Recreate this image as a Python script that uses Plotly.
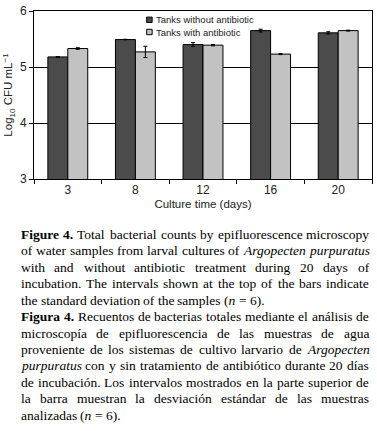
import re
import plotly.graph_objects as go

# ---------------- data ----------------
days = ["3", "8", "12", "16", "20"]
series_names = ["Tanks without antibiotic", "Tanks with antibiotic"]
without_ab = [5.18, 5.49, 5.40, 5.65, 5.61]
without_sd = [0.005, 0.005, 0.035, 0.025, 0.02]
with_ab = [5.33, 5.27, 5.39, 5.23, 5.65]
with_sd = [0.015, 0.10, 0.012, 0.008, 0.008]
y_ticks = [3, 4, 5, 6]

caption_lines = [
    "<b>Figure</b> <b>4.</b> Total bacterial counts by epifluorescence microscopy",
    "of water samples from larval cultures of <i>Argopecten</i> <i>purpuratus</i>",
    "with and without antibiotic treatment during 20 days of",
    "incubation. The intervals shown at the top of the bars indicate",
    "the standard deviation of the samples (<i>n</i> = 6).",
    "<b>Figura</b> <b>4.</b> Recuentos de bacterias totales mediante el análisis de",
    "microscopía de epifluorescencia de las muestras de agua",
    "proveniente de los sistemas de cultivo larvario de <i>Argopecten</i>",
    "<i>purpuratus</i> con y sin tratamiento de antibiótico durante 20 días",
    "de incubación. Los intervalos mostrados en la parte superior de",
    "la barra muestran la desviación estándar de las muestras",
    "analizadas (<i>n</i> = 6).",
]
last_lines = {4, 11}

# ---------------- layout constants ----------------
W, H = 377, 431
ML, MR, MT, MB = 34, 4, 7, 252
PW, PH = W - ML - MR, H - MT - MB
DARK, LIGHT = "#4b4b4b", "#c2c2c2"
SANS = "Liberation Sans Narrow, Arial Narrow, Liberation Sans, Arial, sans-serif"
SERIF = "Liberation Serif, Times New Roman, serif"


def px2x(px):
    return (px - ML) / PW


def py2y(py):
    return (H - MB - py) / PH


fig = go.Figure()
fig.add_trace(go.Bar(
    x=days, y=without_ab, name=series_names[0],
    marker=dict(color=DARK, line=dict(color="black", width=1)),
    error_y=dict(type="data", array=without_sd, color="black", thickness=1, width=2),
    showlegend=False,
))
fig.add_trace(go.Bar(
    x=days, y=with_ab, name=series_names[1],
    marker=dict(color=LIGHT, line=dict(color="black", width=1)),
    error_y=dict(type="data", array=with_sd, color="black", thickness=1, width=2),
    showlegend=False,
))

fig.update_layout(
    width=W, height=H,
    margin=dict(l=ML, r=MR, t=MT, b=MB, pad=0),
    paper_bgcolor="white", plot_bgcolor="white",
    barmode="group", bargap=0.41, bargroupgap=0,
    font=dict(family=SANS, size=12, color="#222"),
)
fig.update_xaxes(
    type="category", showline=True, linecolor="black", linewidth=1, mirror=True,
    ticks="outside", tickson="boundaries", ticklen=4, tickcolor="black",
    showgrid=False, tickfont=dict(size=12),
    title=dict(text="Culture time (days)", font=dict(size=11.5), standoff=3),
)
fig.update_yaxes(
    range=[3, 6], tickvals=y_ticks, showline=True, linecolor="black", linewidth=1,
    mirror=True, ticks="outside", ticklen=4, tickcolor="black",
    showgrid=True, gridcolor="black", gridwidth=1, zeroline=False,
    tickfont=dict(size=12), ticklabeloverflow="allow",
    title=dict(text="Log<sub>10</sub> CFU mL<sup>−1</sup>", font=dict(size=11.5), standoff=4),
)

# ---------------- custom legend ----------------
shapes = []
annotations = []
for i, (nm, col) in enumerate(zip(series_names, [DARK, LIGHT])):
    cy = 16 + i * 12.5
    shapes.append(dict(type="rect", xref="paper", yref="paper",
                       x0=px2x(147), x1=px2x(152.5), y0=py2y(cy + 2.75), y1=py2y(cy - 2.75),
                       fillcolor=col, line=dict(color="black", width=1)))
    annotations.append(dict(text=nm, xref="paper", yref="paper", x=px2x(156.5), y=py2y(cy),
                            xanchor="left", yanchor="middle", showarrow=False,
                            font=dict(family=SANS, size=9.5, color="#222"),
                            borderpad=0, borderwidth=0))

# ---------------- justified caption ----------------
REG = dict(zip("abcdefghijklmnopqrstuvwxyz",
               [444, 500, 444, 500, 444, 333, 500, 500, 278, 278, 500, 278, 778,
                500, 500, 500, 500, 333, 389, 278, 500, 500, 722, 500, 500, 444]))
REG.update(dict(zip("ABCDEFGHIJKLMNOPQRSTUVWXYZ",
                    [722, 667, 667, 722, 611, 556, 722, 722, 333, 389, 722, 611, 889,
                     722, 722, 556, 722, 667, 556, 611, 722, 722, 944, 722, 722, 611])))
REG.update({c: 500 for c in "0123456789"})
REG.update({".": 250, ",": 250, "(": 333, ")": 333, "=": 564, "-": 333,
            "á": 444, "é": 444, "í": 278, "ó": 500, "ú": 500, "ñ": 500})
BOLD = dict(REG)
BOLD.update({"a": 500, "r": 444, "u": 556, "F": 611})
ITAL = dict(REG)
ITAL.update({"a": 500, "r": 389, "A": 611, "n": 500, "u": 500})


def word_width(word, fs):
    total = 0
    for m in re.finditer(r"<(b|i)>(.*?)</\1>|([^<]+)", word):
        if m.group(1) == "b":
            tbl, s = BOLD, m.group(2)
        elif m.group(1) == "i":
            tbl, s = ITAL, m.group(2)
        else:
            tbl, s = REG, m.group(3)
        total += sum(tbl.get(c, 500) for c in s)
    return total * fs / 1000


FS = 13.5
LEFT, RIGHT = 20.7, 370.0
BASE0, LEAD = 240.5, 16.8
for li, line in enumerate(caption_lines):
    words = line.split(" ")
    widths = [word_width(w, FS) for w in words]
    if li in last_lines or len(words) == 1:
        gap = 250 * FS / 1000
    else:
        gap = (RIGHT - LEFT - sum(widths)) / (len(words) - 1)
    xpos = LEFT
    base = BASE0 + li * LEAD
    for w, wd in zip(words, widths):
        annotations.append(dict(text=w, xref="paper", yref="paper", x=px2x(xpos),
                                y=py2y(base - 4.6), xanchor="left", yanchor="middle",
                                showarrow=False, borderpad=0, borderwidth=0,
                                font=dict(family=SERIF, size=FS, color="black")))
        xpos += wd + gap

fig.update_layout(shapes=shapes, annotations=annotations)
fig.write_html("out.html", config={"displayModeBar": False},
               post_script="document.body.style.margin='0';")
